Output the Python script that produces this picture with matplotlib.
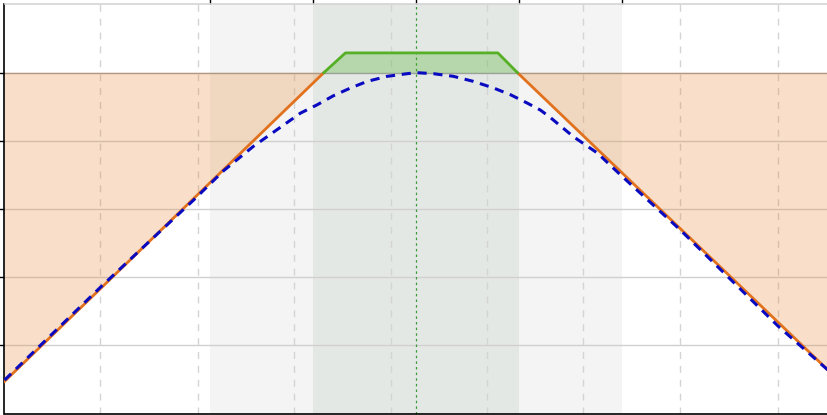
import numpy as np
import matplotlib
matplotlib.use("Agg")
import matplotlib.pyplot as plt

# solid (clipped) curve vertices
clip_x = np.array([-4.0, -0.90, -0.69, 0.79, 0.98, 4.0])
clip_y = np.array([-3.53, 1.0, 1.29, 1.29, 1.0, -3.37])

# smooth dashed curve
smooth_x = np.array([-4.0, -3.07, -2.165, -1.874, -1.583, -1.32, -1.126, -0.964,
                     -0.806, -0.641, -0.479, -0.285, -0.09, 0.0, 0.165, 0.359,
                     0.553, 0.748, 0.913, 1.075, 1.204, 1.301, 1.524, 1.757,
                     1.981, 2.175, 2.563, 3.505, 4.0])
smooth_y = np.array([-3.51, -2.15, -0.87, -0.44, -0.08, 0.2, 0.407, 0.529,
                     0.662, 0.775, 0.872, 0.946, 0.985, 1.0, 0.985, 0.946,
                     0.872, 0.775, 0.676, 0.554, 0.45, 0.34, 0.06, -0.18,
                     -0.5, -0.77, -1.31, -2.71, -3.37])

ref_level = 1.0
outer_band = (-2.0, 2.0)
inner_band = (-1.0, 1.0)
top_ticks = [-2, -1, 0, 1, 2]
y_ticks = [-3, -2, -1, 0, 1]
v_grid = [-3.068, -2.126, -1.194, -0.252, 0.689, 1.621, 2.563, 3.505]

fig = plt.figure(figsize=(8.28, 4.15), dpi=100)
ax = fig.add_axes([4.5 / 828, 1.5 / 415, 824 / 828, 409 / 415])
ax.set_xlim(-4, 4)
ax.set_ylim(-4, 2)

# shaded bands
ax.axvspan(*outer_band, color="#7a8a80", alpha=0.09, lw=0, zorder=0)
ax.axvspan(*inner_band, color="#4f7a5f", alpha=0.09, lw=0, zorder=0)

# grid
for gy in y_ticks:
    c = "#a0a0a0" if gy == ref_level else "#d0d0d0"
    ax.axhline(gy, color=c, lw=1.0, zorder=1)
for gx in v_grid:
    ax.axvline(gx, color="#d4d4d4", lw=1.0, ls=(0, (5, 5)), zorder=1)

ax.axvline(0, color="#3a9a3a", lw=0.9, ls=(0, (2, 2.5)), zorder=2)

# fills
ax.fill_between(clip_x, clip_y, ref_level, where=clip_y <= ref_level,
                interpolate=True, color="#e8822a", alpha=0.25, lw=0, zorder=2)
ax.fill_between(clip_x, clip_y, ref_level, where=clip_y >= ref_level,
                interpolate=True, color="#4caf28", alpha=0.3, lw=0, zorder=2)

# lines
ax.plot(clip_x[:2], clip_y[:2], color="#e2711d", lw=2, zorder=3)
ax.plot(clip_x[-2:], clip_y[-2:], color="#e2711d", lw=2, zorder=3)
ax.plot(clip_x[1:5], clip_y[1:5], color="#55b025", lw=2, zorder=3)
ax.plot(smooth_x, smooth_y, color="#0a0ac0", lw=2.2, ls=(0, (3, 2.2)),
        solid_joinstyle="round", zorder=4)

# axes decoration
ax.set_xticks(top_ticks)
ax.set_yticks(y_ticks)
ax.tick_params(axis="x", bottom=False, top=True, labelbottom=False,
               labeltop=False, direction="out", length=3.5, width=1, color="black")
ax.tick_params(axis="y", left=True, labelleft=False, direction="out",
               length=3.5, width=1, color="black")
ax.spines["right"].set_visible(False)
ax.spines["top"].set_color("#d4d4d4")
ax.spines["top"].set_linewidth(1.2)
ax.spines["left"].set_color("black")
ax.spines["bottom"].set_color("black")
ax.spines["left"].set_linewidth(1.2)
ax.spines["bottom"].set_linewidth(1.2)

fig.savefig("out.png", dpi=100)
